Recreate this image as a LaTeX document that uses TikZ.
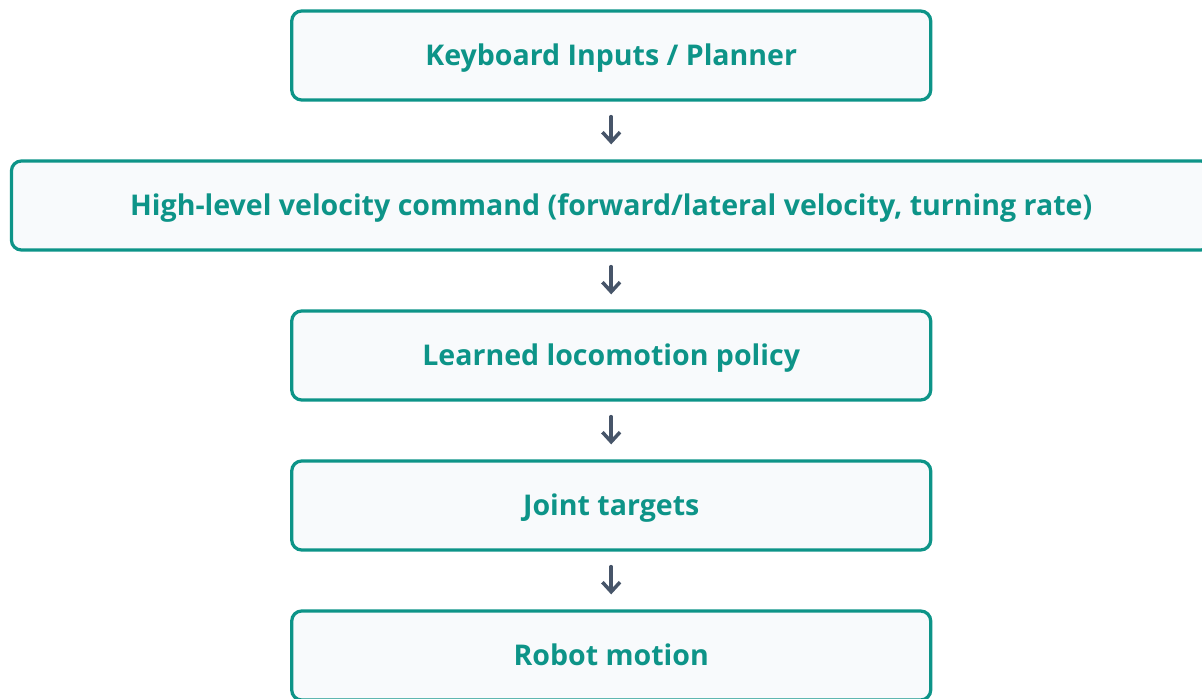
\documentclass[tikz,border=0pt]{standalone}
\usepackage{fontspec}
\setmainfont{Open Sans}
\usepackage{tikz}
\usetikzlibrary{positioning,arrows.meta}
\definecolor{tealline}{HTML}{0D9488}
\definecolor{boxfill}{HTML}{F8FAFC}
\definecolor{slatearrow}{HTML}{475569}
\newcommand{\flowarrow}{-{Straight Barb[length=2.4mm,width=4.4mm]}}
\tikzset{
  stage/.style={draw=tealline, fill=boxfill, line width=2.3pt, rounded corners=2.5mm,
    minimum width=15.975cm, minimum height=2.225cm, text=tealline,
    text height=14.5pt, text depth=0pt,
    font=\fontsize{20.3}{24}\selectfont\bfseries},
  widestage/.style={stage, minimum width=29.99cm},
  flow/.style={\flowarrow, draw=slatearrow, line width=2.5pt, line cap=round, line join=round,
    shorten <=0.375cm, shorten >=0.375cm}
}

\begin{document}
\begin{tikzpicture}
                \useasboundingbox (0,0) rectangle (30.05,-17.475);
                \node[stage] (keys) at (15.28,-1.3875) {Keyboard Inputs / Planner};
                \node[widestage] (cmd) at (15.28,-5.1375) {High-level velocity command (forward/lateral velocity, turning rate)};
                \node[stage] (policy) at (15.28,-8.8875) {Learned locomotion policy};
                \node[stage] (joints) at (15.28,-12.6375) {Joint targets};
                \node[stage] (motion) at (15.28,-16.3875) {Robot motion};
                \draw[flow] (keys) -- (cmd);
                \draw[flow] (cmd) -- (policy);
                \draw[flow] (policy) -- (joints);
                \draw[flow] (joints) -- (motion);
            \end{tikzpicture}
\end{document}
